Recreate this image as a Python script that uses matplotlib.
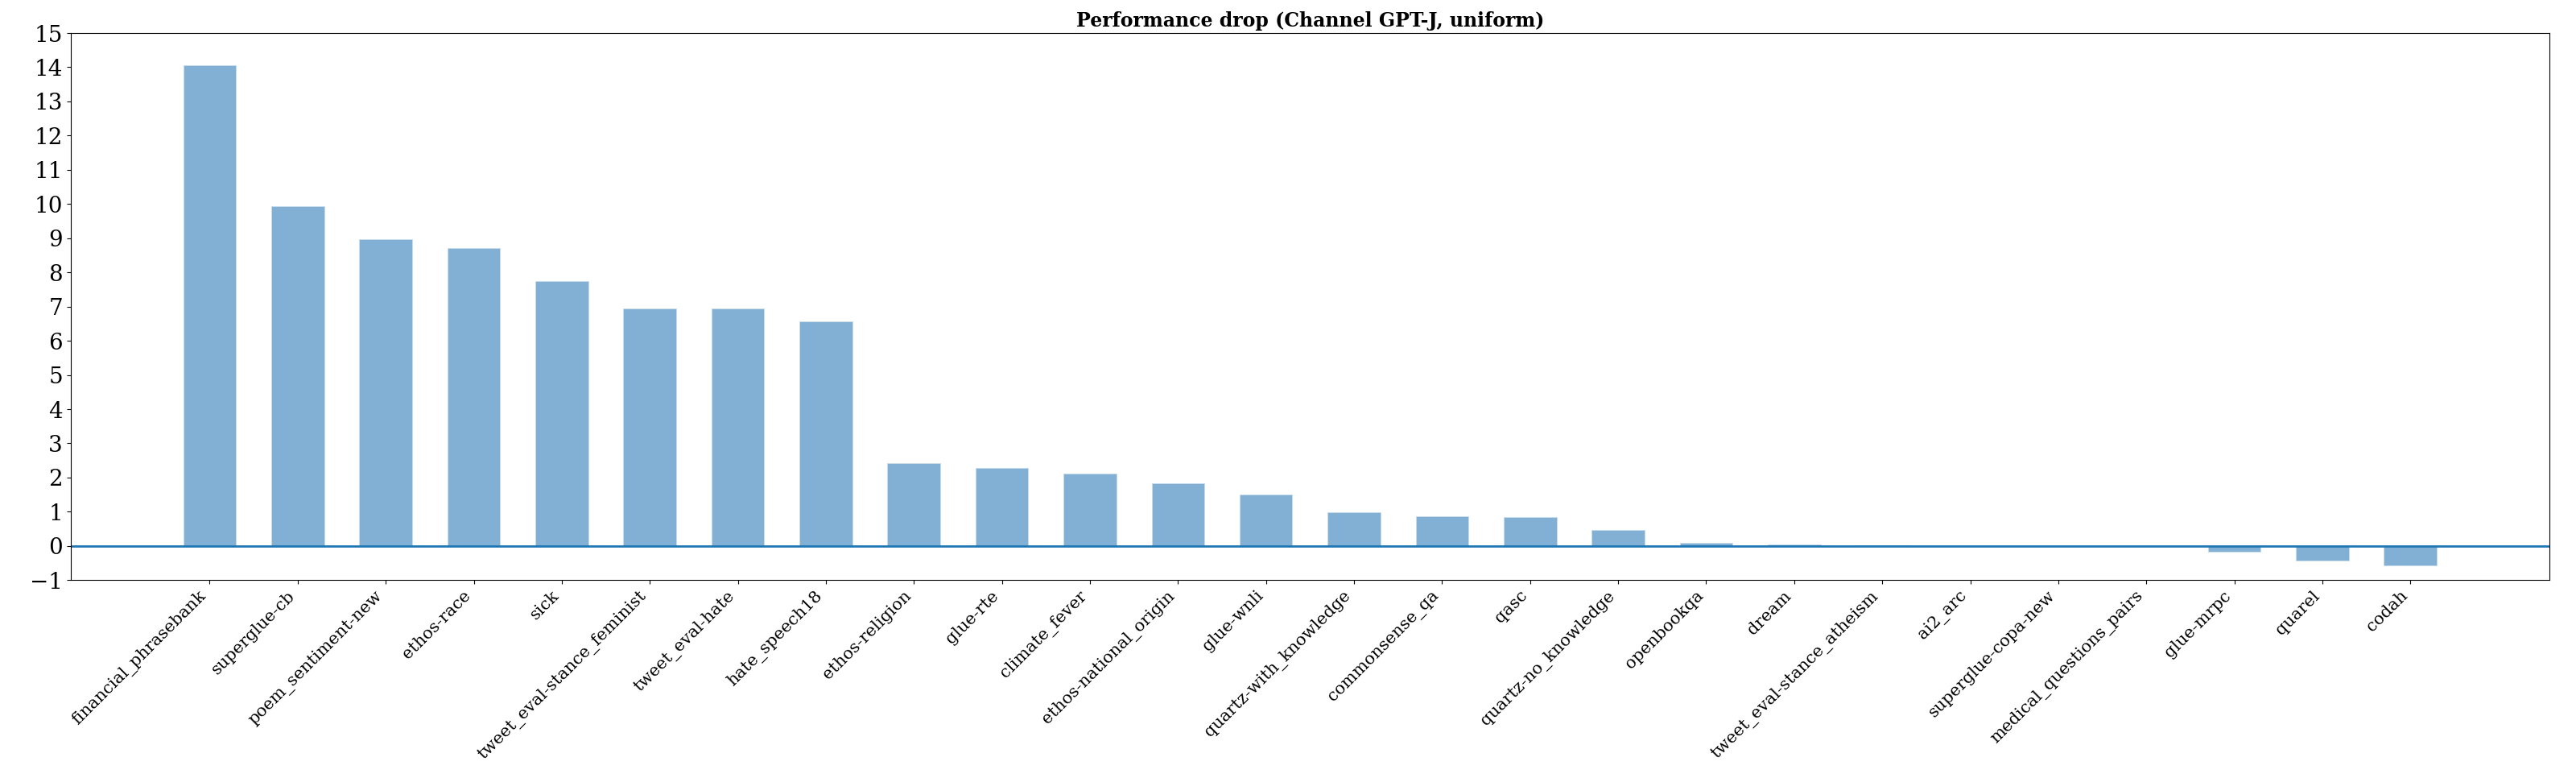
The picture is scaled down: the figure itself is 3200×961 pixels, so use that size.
import matplotlib
matplotlib.use("Agg")
import matplotlib.pyplot as plt
import numpy as np

plt.rcParams['font.family'] = ['DejaVu Serif']

categories = [
    "financial_phrasebank", "superglue-cb", "poem_sentiment-new", "ethos-race", "sick",
    "tweet_eval-stance_feminist", "tweet_eval-hate", "hate_speech18", "ethos-religion",
    "glue-rte", "climate_fever", "ethos-national_origin", "glue-wnli",
    "quartz-with_knowledge", "commonsense_qa", "qasc", "quartz-no_knowledge",
    "openbookqa", "dream", "tweet_eval-stance_atheism", "ai2_arc", "superglue-copa-new",
    "medical_questions_pairs", "glue-mrpc", "quarel", "codah",
]
values = [
    14.05, 9.93, 8.97, 8.71, 7.75,
    6.95, 6.95, 6.56, 2.43,
    2.27, 2.12, 1.84, 1.51,
    0.99, 0.87, 0.85, 0.47,
    0.09, 0.05, 0.01, 0.0, 0.0,
    0.0, -0.17, -0.44, -0.58,
]
yticks = list(range(-1, 16))
title = "Performance drop (Channel GPT-J, uniform)"

fig = plt.figure(figsize=(32, 9.61), dpi=100)
ax = fig.add_axes([0.0274, 0.2505, 0.9623, 0.7068])

x = np.arange(len(categories))
ax.bar(x, values, width=0.6, color='#82b0d4', edgecolor='#c8dcec', linewidth=0.6)
ax.axhline(0, color='#1f77b4', linewidth=2.0)

ax.set_ylim(-1, 15)
ax.set_yticks(yticks)
ax.tick_params(axis='y', labelsize=20)
ax.set_xticks(x)
ax.set_xticklabels(categories, rotation=45, ha='right', fontsize=15)
ax.set_title(title, fontsize=17, fontweight='bold')

fig.savefig("out.png", dpi=100)
